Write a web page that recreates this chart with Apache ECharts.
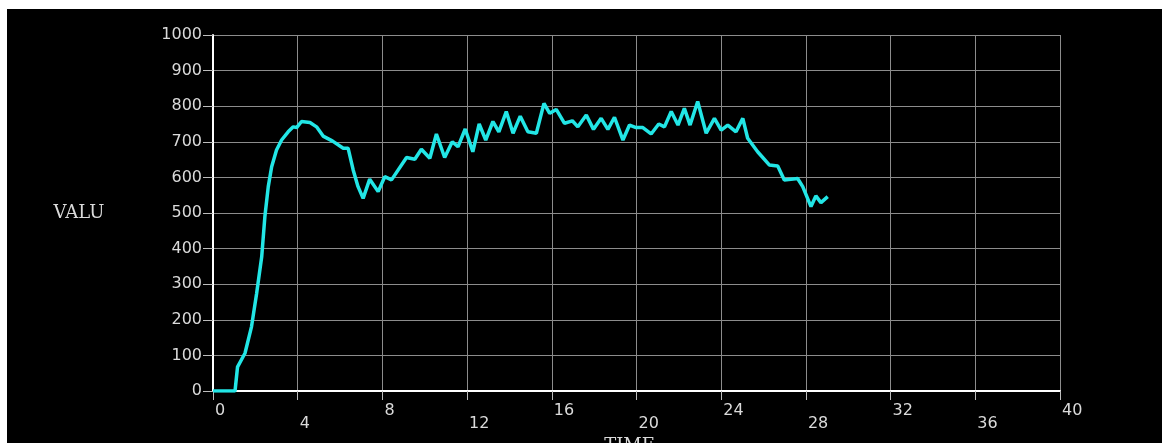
<!DOCTYPE html>
<html>
<head>
<meta charset="utf-8">
<script src="https://cdn.jsdelivr.net/npm/echarts@6/dist/echarts.min.js"></script>
<style>
  html, body { margin: 0; padding: 0; background: #ffffff; overflow: hidden; }
  #chart { position: absolute; left: 7px; top: 9px; width: 1155px; height: 434px; background: #000000; }
</style>
</head>
<body>
<div id="chart"></div>
<script>
// Sampled time history of VALU against TIME
const times = [0, 1.04, 1.16, 1.51, 1.82, 2.06, 2.30, 2.45, 2.61, 2.77, 3.00, 3.24, 3.55, 3.79, 3.95,
  4.18, 4.58, 4.89, 5.20, 5.65, 6.15, 6.38, 6.62, 6.85, 7.09, 7.40, 7.80, 8.11, 8.43, 9.14, 9.53,
  9.84, 10.24, 10.55, 10.94, 11.30, 11.57, 11.91, 12.27, 12.57, 12.88, 13.22, 13.50, 13.85, 14.17,
  14.51, 14.87, 15.27, 15.63, 15.90, 16.21, 16.60, 16.97, 17.23, 17.63, 17.97, 18.33, 18.65, 18.96,
  19.36, 19.67, 19.98, 20.30, 20.69, 21.05, 21.32, 21.64, 21.96, 22.26, 22.53, 22.89, 23.29, 23.68,
  24.00, 24.31, 24.70, 25.02, 25.25, 25.72, 26.27, 26.67, 26.98, 27.61, 27.85, 28.24, 28.47, 28.71, 29.03];
const values = [0, 0, 68, 106, 181, 274, 377, 490, 574, 630, 677, 705, 728, 742, 740,
  757, 754, 742, 716, 702, 682, 682, 621, 574, 541, 595, 560, 602, 593, 656, 651,
  679, 654, 722, 656, 700, 686, 736, 672, 750, 705, 757, 728, 785, 724,
  772, 728, 724, 808, 780, 791, 752, 759, 742, 775, 735, 766, 735, 769,
  705, 747, 740, 740, 722, 750, 742, 785, 747, 794, 747, 813, 724, 766,
  733, 747, 728, 766, 710, 672, 635, 632, 593, 597, 574, 518, 548, 529, 546];
const xTicks = { min: 0, max: 40, step: 4 };
const yTicks = { min: 0, max: 1000, step: 100 };

const labelColor = '#dadada';
const gridColor = '#8c8c8c';
const numFont = 'DejaVu Sans';
const nameFont = 'DejaVu Serif';

const chart = echarts.init(document.getElementById('chart'), null, { renderer: 'canvas' });
chart.setOption({
  backgroundColor: '#000000',
  animation: false,
  grid: { left: 206, right: 102, top: 26, bottom: 52, containLabel: false, outerBoundsMode: 'none' },
  xAxis: {
    type: 'value',
    min: xTicks.min, max: xTicks.max, interval: xTicks.step,
    name: 'TIME',
    nameLocation: 'middle',
    nameGap: 41,
    nameTextStyle: { color: labelColor, fontFamily: nameFont, fontSize: 18, padding: [0, 14, 0, 0] },
    axisLine: { show: true, onZero: false, lineStyle: { color: '#ffffff', width: 2 } },
    axisTick: { show: true, inside: false, length: 9, lineStyle: { color: '#bdbdbd', width: 1 } },
    splitLine: { show: true, lineStyle: { color: gridColor, width: 1 } },
    axisLabel: {
      color: labelColor, fontFamily: numFont, fontSize: 16, margin: 12,
      align: 'left', padding: [0, 0, 0, 2],
      showMinLabel: true, showMaxLabel: true,
      formatter: function (v) {
        const idx = Math.round(v / xTicks.step);
        return idx % 2 === 1 ? '{lo|' + v + '}' : '{hi|' + v + '}';
      },
      rich: {
        hi: { color: labelColor, fontFamily: numFont, fontSize: 16, padding: [0, 0, 13, 0] },
        lo: { color: labelColor, fontFamily: numFont, fontSize: 16, padding: [13, 0, 0, 0] }
      }
    }
  },
  yAxis: {
    type: 'value',
    min: yTicks.min, max: yTicks.max, interval: yTicks.step,
    name: 'VALU',
    nameLocation: 'middle',
    nameRotate: 0,
    nameGap: 134,
    nameTextStyle: { color: labelColor, fontFamily: nameFont, fontSize: 18, align: 'center', verticalAlign: 'middle', padding: [0, 0, 18, 0] },
    axisLine: { show: true, onZero: false, lineStyle: { color: '#ffffff', width: 2 } },
    axisTick: { show: true, inside: false, length: 10, lineStyle: { color: '#bdbdbd', width: 1 } },
    splitLine: { show: true, lineStyle: { color: gridColor, width: 1 } },
    axisLabel: { color: labelColor, fontFamily: numFont, fontSize: 16, margin: 11, formatter: function (v) { return String(v); } }
  },
  series: [{
    type: 'line',
    data: times.map((t, i) => [t, values[i]]),
    showSymbol: false,
    smooth: false,
    lineStyle: { color: '#22e6e6', width: 3.5 },
    itemStyle: { color: '#22e6e6' },
    z: 5
  }]
});
</script>
</body>
</html>
